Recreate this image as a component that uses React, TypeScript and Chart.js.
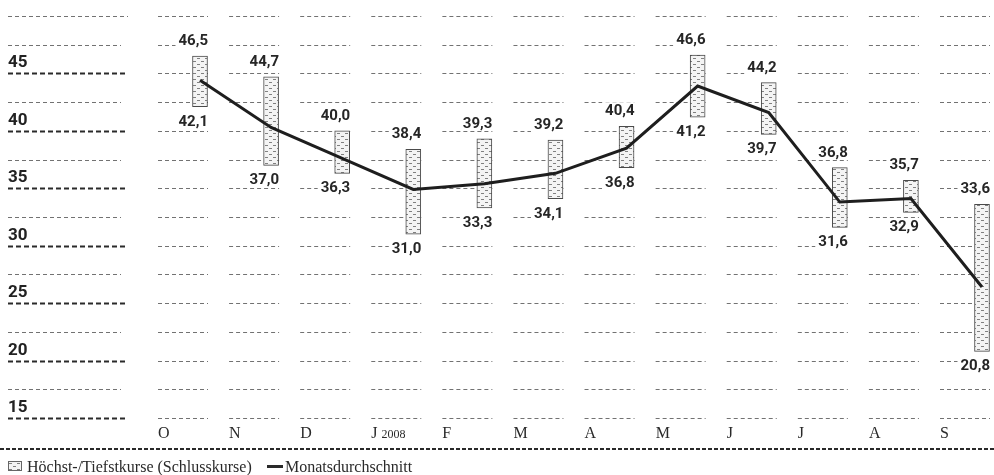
import React, { useEffect, useRef } from "react";
import { Chart, registerables } from "chart.js";

Chart.register(...registerables);

const months = ["O", "N", "D", "J", "F", "M", "A", "M", "J", "J", "A", "S"];
const monthSuffix = ["", "", "", "2008", "", "", "", "", "", "", "", ""];
const highs = [46.5, 44.7, 40.0, 38.4, 39.3, 39.2, 40.4, 46.6, 44.2, 36.8, 35.7, 33.6];
const lows = [42.1, 37.0, 36.3, 31.0, 33.3, 34.1, 36.8, 41.2, 39.7, 31.6, 32.9, 20.8];
const averages = [44.4, 40.3, 37.6, 34.9, 35.4, 36.3, 38.5, 43.9, 41.6, 33.8, 34.1, 26.4];
const yTickLabels = [15, 20, 25, 30, 35, 40, 45];
const legendRange = "Höchst-/Tiefstkurse (Schlusskurse)";
const legendAvg = "Monatsdurchschnitt";

const fmt = (v: number) => v.toFixed(1).replace(".", ",");

function makePattern(): CanvasPattern | string {
  const c = document.createElement("canvas");
  c.width = 8;
  c.height = 6;
  const g = c.getContext("2d");
  if (!g) return "#eee";
  g.fillStyle = "#f4f4f4";
  g.fillRect(0, 0, 8, 6);
  g.fillStyle = "#808080";
  g.fillRect(1, 1, 3, 1);
  g.fillRect(5, 4, 3, 1);
  const ctx = document.createElement("canvas").getContext("2d");
  const p = ctx ? ctx.createPattern(c, "repeat") : null;
  return p || "#eee";
}

export default function App() {
  const ref = useRef<HTMLCanvasElement | null>(null);

  useEffect(() => {
    if (!ref.current) return;
    const pattern = makePattern();
    const SANS = "Roboto, 'DejaVu Sans', sans-serif";
    const SERIF = "'Liberation Serif', 'DejaVu Serif', serif";

    const decor = {
      id: "decor",
      beforeDatasetsDraw(chart: any) {
        const ctx = chart.ctx;
        const x = chart.scales.x;
        const y = chart.scales.y;
        ctx.save();
        for (let v = 15; v <= 50.001; v += 2.5) {
          const py = Math.round(y.getPixelForValue(v)) + 0.5;
          ctx.strokeStyle = "#727272";
          ctx.lineWidth = 1;
          ctx.setLineDash([4, 3]);
          for (let i = 0; i < months.length; i++) {
            const cx = x.getPixelForValue(i);
            ctx.beginPath();
            ctx.moveTo(cx - 42, py);
            ctx.lineTo(cx + 8, py);
            ctx.stroke();
          }
          const major = Math.abs(v % 5) < 0.01 && v < 50;
          ctx.beginPath();
          if (major) {
            ctx.strokeStyle = "#2a2a2a";
            ctx.lineWidth = 2;
            ctx.setLineDash([5, 3]);
            ctx.moveTo(8, py);
            ctx.lineTo(128, py);
          } else {
            ctx.moveTo(8, py);
            ctx.lineTo(v >= 50 ? 128 : 121, py);
          }
          ctx.stroke();
        }
        ctx.setLineDash([]);
        ctx.fillStyle = "#222";
        ctx.font = `bold 17px ${SANS}`;
        ctx.textAlign = "left";
        ctx.textBaseline = "alphabetic";
        yTickLabels.forEach((v) => {
          const py = y.getPixelForValue(v);
          ctx.fillText(String(v), 8, py - 6);
        });
        ctx.restore();
      },
      afterDatasetsDraw(chart: any) {
        const ctx = chart.ctx;
        const x = chart.scales.x;
        const y = chart.scales.y;
        ctx.save();
        ctx.font = `bold 15px ${SANS}`;
        ctx.textAlign = "right";
        ctx.textBaseline = "alphabetic";
        for (let i = 0; i < months.length; i++) {
          const right = x.getPixelForValue(i) + 8;
          const top = y.getPixelForValue(highs[i]);
          const bot = y.getPixelForValue(lows[i]);
          const items: [string, number][] = [
            [fmt(highs[i]), top - 11],
            [fmt(lows[i]), bot + 19],
          ];
          items.forEach(([t, base]) => {
            const w = ctx.measureText(t).width;
            ctx.fillStyle = "#fff";
            ctx.fillRect(right - w - 3, base - 13, w + 4, 16);
            ctx.fillStyle = "#262626";
            ctx.fillText(t, right, base);
          });
        }
        ctx.textAlign = "left";
        for (let i = 0; i < months.length; i++) {
          const lx = x.getPixelForValue(i) - 42;
          ctx.fillStyle = "#2a2a2a";
          ctx.font = `16px ${SERIF}`;
          ctx.fillText(months[i], lx, 438);
          if (monthSuffix[i]) {
            const w = ctx.measureText(months[i]).width;
            ctx.font = `12px ${SERIF}`;
            ctx.fillText(monthSuffix[i], lx + w + 4, 438);
          }
        }
        ctx.strokeStyle = "#2a2a2a";
        ctx.lineWidth = 2;
        ctx.setLineDash([4, 2]);
        ctx.beginPath();
        ctx.moveTo(0, 449);
        ctx.lineTo(994, 449);
        ctx.stroke();
        ctx.setLineDash([]);
        ctx.fillStyle = pattern as any;
        ctx.fillRect(8, 461, 14, 10);
        ctx.strokeStyle = "#666";
        ctx.lineWidth = 1;
        ctx.strokeRect(8.5, 461.5, 13, 9);
        ctx.fillStyle = "#2a2a2a";
        ctx.font = `16px ${SERIF}`;
        ctx.fillText(legendRange, 27, 472);
        ctx.fillRect(267, 465, 16, 3);
        ctx.fillText(legendAvg, 285, 472);
        ctx.restore();
      },
    };

    const chart = new Chart(ref.current, {
      type: "bar",
      data: {
        labels: months,
        datasets: [
          {
            type: "line",
            data: averages,
            borderColor: "#1e1e1e",
            borderWidth: 3,
            pointRadius: 0,
            tension: 0,
            order: 1,
            clip: false,
          } as any,
          {
            type: "bar",
            data: lows.map((l, i) => [l, highs[i]]),
            backgroundColor: pattern as any,
            borderColor: "#4a4a4a",
            borderWidth: 1,
            borderSkipped: false,
            barThickness: 15,
            order: 2,
            clip: false,
          } as any,
        ],
      },
      options: {
        responsive: false,
        animation: false,
        devicePixelRatio: 1,
        layout: { padding: { left: 200, right: 12, top: 16, bottom: 57 } },
        plugins: { legend: { display: false }, tooltip: { enabled: false } },
        scales: {
          x: { display: false, offset: false },
          y: { display: false, min: 15, max: 50 },
        },
      },
      plugins: [decor],
    });
    return () => chart.destroy();
  }, []);

  return (
    <div style={{ position: "fixed", left: 0, top: 0, width: 994, height: 475, background: "#fff" }}>
      <canvas ref={ref} width={994} height={475} style={{ width: 994, height: 475 }} />
    </div>
  );
}
